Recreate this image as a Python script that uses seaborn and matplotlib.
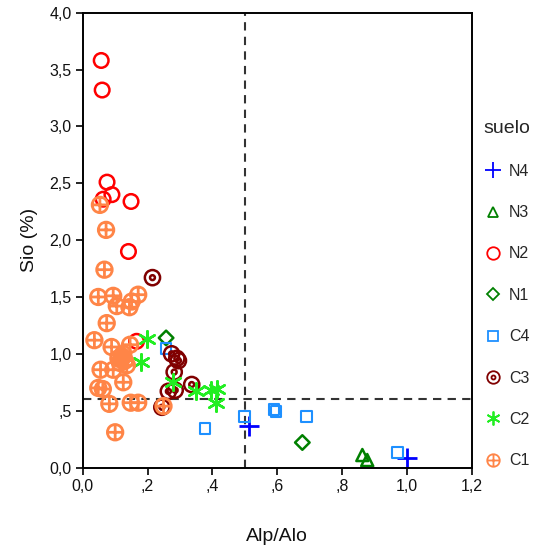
import numpy as np
import pandas as pd
import matplotlib
matplotlib.use("Agg")
import matplotlib.pyplot as plt
from matplotlib.path import Path
from matplotlib.lines import Line2D
from matplotlib.ticker import FixedLocator, FixedFormatter
import seaborn as sns

# Soil groups, in legend order
suelos = ["N4", "N3", "N2", "N1", "C4", "C3", "C2", "C1"]

n4_alp = [0.514, 0.999]
n4_sio = [0.365, 0.08]

n3_alp = [0.862, 0.877]
n3_sio = [0.11, 0.066]

n2_alp = [0.057, 0.060, 0.075, 0.090, 0.063, 0.149, 0.141, 0.166]
n2_sio = [3.58, 3.32, 2.51, 2.40, 2.36, 2.34, 1.90, 1.11]

n1_alp = [0.257, 0.677]
n1_sio = [1.14, 0.22]

c4_alp = [0.257, 0.377, 0.498, 0.590, 0.596, 0.690, 0.971]
c4_sio = [1.05, 0.345, 0.45, 0.51, 0.49, 0.45, 0.13]

c3_alp = [0.215, 0.274, 0.295, 0.290, 0.282, 0.336, 0.285, 0.264, 0.244]
c3_sio = [1.67, 1.00, 0.94, 0.96, 0.84, 0.73, 0.68, 0.67, 0.53]

c2_alp = [0.197, 0.180, 0.279, 0.349, 0.395, 0.415, 0.411]
c2_sio = [1.13, 0.93, 0.75, 0.67, 0.68, 0.69, 0.57]

c1_alp = [0.053, 0.072, 0.067, 0.048, 0.094, 0.105, 0.171, 0.151, 0.144,
          0.074, 0.036, 0.089, 0.146, 0.110, 0.120, 0.130, 0.115, 0.125,
          0.118, 0.122, 0.055, 0.094, 0.136, 0.125, 0.062, 0.082, 0.148,
          0.171, 0.100, 0.249, 0.048]
c1_sio = [2.31, 2.09, 1.74, 1.50, 1.51, 1.42, 1.52, 1.46, 1.41,
          1.27, 1.12, 1.06, 1.08, 0.96, 0.98, 0.94, 0.92, 1.00,
          0.95, 0.97, 0.86, 0.86, 0.90, 0.75, 0.69, 0.56, 0.57,
          0.57, 0.31, 0.54, 0.70]

xtick_values = [0.0, 0.2, 0.4, 0.6, 0.8, 1.0, 1.2]
xtick_labels = ["0,0", ",2", ",4", ",6", ",8", "1,0", "1,2"]
ytick_values = [0.0, 0.5, 1.0, 1.5, 2.0, 2.5, 3.0, 3.5, 4.0]
ytick_labels = ["0,0", ",5", "1,0", "1,5", "2,0", "2,5", "3,0", "3,5", "4,0"]

alp_cut = 0.5
sio_cut = 0.6

frames = []
for name, xs, ys in [("N4", n4_alp, n4_sio), ("N3", n3_alp, n3_sio),
                     ("N2", n2_alp, n2_sio), ("N1", n1_alp, n1_sio),
                     ("C4", c4_alp, c4_sio), ("C3", c3_alp, c3_sio),
                     ("C2", c2_alp, c2_sio), ("C1", c1_alp, c1_sio)]:
    frames.append(pd.DataFrame({"Alp/Alo": xs, "Sio": ys, "suelo": name}))
df = pd.concat(frames, ignore_index=True)

# Composite marker shapes
circ = Path.unit_circle()
plus_lines = Path([(-1, 0), (1, 0), (0, -1), (0, 1)],
                  [Path.MOVETO, Path.LINETO, Path.MOVETO, Path.LINETO])
circle_plus = Path.make_compound_path(circ, plus_lines)
inner = Path(circ.vertices * 0.32, circ.codes)
circle_dot = Path.make_compound_path(circ, inner)

style = {
    "N4": dict(color="#0000ff", marker="+", size=210, lw=2.0, leg_ms=11),
    "N3": dict(color="#008000", marker="^", size=75, lw=1.8, leg_ms=7),
    "N2": dict(color="#ff0000", marker="o", size=110, lw=1.8, leg_ms=9),
    "N1": dict(color="#008000", marker="D", size=55, lw=1.8, leg_ms=6.5),
    "C4": dict(color="#1e90ff", marker="s", size=60, lw=1.5, leg_ms=7),
    "C3": dict(color="#800000", marker=circle_dot, size=120, lw=1.8, leg_ms=9),
    "C2": dict(color="#22ee22", marker=(6, 2, 0), size=140, lw=1.8, leg_ms=10),
    "C1": dict(color="#ff8547", marker=circle_plus, size=125, lw=2.0, leg_ms=9),
}

sns.set_theme(style="white")
plt.rcParams["font.family"] = ["Liberation Sans", "DejaVu Sans"]

fig = plt.figure(figsize=(5.34, 5.51), dpi=100)
ax = fig.add_axes([0.1549, 0.1515, 0.7290, 0.8254])

for name in suelos:
    st = style[name]
    sub = df[df["suelo"] == name]
    unfilled_edge = st["marker"] in ("+", (6, 2, 0))
    kw = dict(color=st["color"], linewidths=st["lw"]) if unfilled_edge else \
        dict(facecolors="none", edgecolor=st["color"], linewidth=st["lw"])
    sns.scatterplot(data=sub, x="Alp/Alo", y="Sio", marker=st["marker"],
                    s=st["size"], ax=ax, legend=False, **kw)

ax.axvline(alp_cut, color="#333333", lw=1.5, ls=(0, (4, 3)), zorder=0)
ax.axhline(sio_cut, color="#333333", lw=1.5, ls=(0, (4, 3)), zorder=0)

ax.set_xlim(0, 1.2)
ax.set_ylim(0, 4.0)
ax.xaxis.set_major_locator(FixedLocator(xtick_values))
ax.xaxis.set_major_formatter(FixedFormatter(xtick_labels))
ax.yaxis.set_major_locator(FixedLocator(ytick_values))
ax.yaxis.set_major_formatter(FixedFormatter(ytick_labels))
ax.tick_params(axis="both", which="major", direction="out", length=5,
               width=1.2, color="black", labelsize=11.5, labelcolor="#111111",
               bottom=True, left=True, top=False, right=False, pad=3)
for sp in ax.spines.values():
    sp.set_color("black")
    sp.set_linewidth(1.4)

ax.set_xlabel("Alp/Alo", fontsize=14, labelpad=25, color="#111111")
ax.set_ylabel("Sio (%)", fontsize=14, labelpad=8, color="#111111")

handles = []
for name in suelos:
    st = style[name]
    m = st["marker"]
    filled = m not in ("+", (6, 2, 0))
    handles.append(Line2D([], [], ls="none", marker=m, markersize=st["leg_ms"],
                          markeredgecolor=st["color"],
                          markerfacecolor="none" if filled else st["color"],
                          markeredgewidth=1.3, label=name))
leg = fig.legend(handles=handles, title="suelo", loc="upper left",
                 bbox_to_anchor=(477 / 534, 1 - 114 / 551), frameon=False,
                 fontsize=11.5, title_fontsize=14, labelspacing=1.65,
                 handletextpad=0.4, handlelength=1.2, borderaxespad=0,
                 alignment="left")

fig.savefig("out.png", dpi=100)
